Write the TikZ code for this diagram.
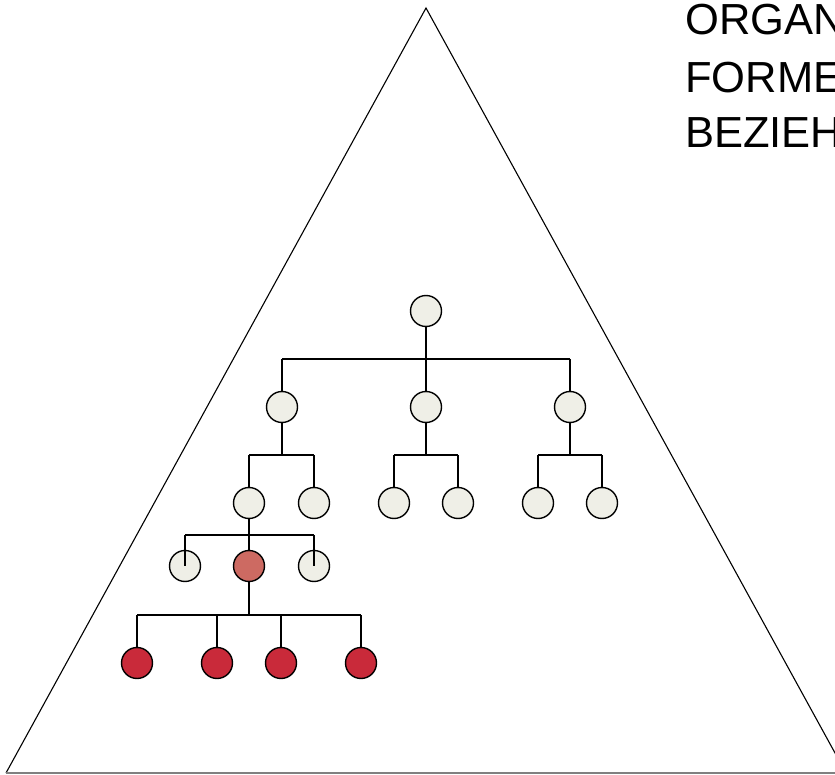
\documentclass[tikz,border=0pt]{standalone}
\usepackage{fontspec}
\setmainfont{Liberation Sans}
\usepackage{tikz}
\usetikzlibrary{calc}
\definecolor{nodelight}{HTML}{EFEFE7}
\definecolor{nodepink}{HTML}{CD6A62}
\definecolor{nodered}{HTML}{C92A3A}

\begin{document}
\begin{tikzpicture}[x=1pt, y=-1pt,
    unit/.style={circle, draw=black, line width=1.4pt, minimum size=31pt, inner sep=0pt, fill=nodelight},
    focus/.style={unit, fill=nodepink},
    member/.style={unit, fill=nodered},
    link/.style={line width=1.4pt},
    title/.style={anchor=base west, inner sep=0pt, font=\fontsize{43.5pt}{57pt}\selectfont}]
    \useasboundingbox (0,0) rectangle (835,775);
    \clip (0,0) rectangle (835,775);
    \fill[white] (0,0) rectangle (835,775);

    % Pyramid
    \coordinate (apex) at (426,8);
    \coordinate (baseL) at (6,773);
    \coordinate (baseR) at (846,773);
    \draw[line width=1.1pt] (baseL) -- (apex) -- (baseR);
    \draw[gray, line width=1.2pt] (baseL) -- (baseR);

    % Heading
    \node[title] (txtA) at (685,35) {ORGANISATION};
    \node[title] (txtB) at (685,93) {FORMELLE};
    \node[title] (txtC) at (685,148) {BEZIEHUNGEN};

    % bar levels
    \coordinate (bar1) at (0,359);
    \coordinate (bar2) at (0,455);
    \coordinate (bar3) at (0,535);
    \coordinate (bar4) at (0,615);

    % Top and first level
    \node[unit] (top) at (426,311) {};
    \node[unit] (l1a) at (282,407) {};
    \node[unit] (l1b) at (426,407) {};
    \node[unit] (l1c) at (570,407) {};
    \draw[link] (top.south) -- (top |- bar1);
    \draw[link] (l1a |- bar1) -- (l1c |- bar1);
    \foreach \c in {l1a,l1b,l1c}
        \draw[link] (\c |- bar1) -- (\c.north);

    % Second level
    \node[unit] (l2a) at (249,503) {};
    \node[unit] (l2b) at (314,503) {};
    \node[unit] (l2c) at (394,503) {};
    \node[unit] (l2d) at (458,503) {};
    \node[unit] (l2e) at (538,503) {};
    \node[unit] (l2f) at (602,503) {};
    \foreach \p/\a/\b in {l1a/l2a/l2b, l1b/l2c/l2d, l1c/l2e/l2f} {
        \draw[link] (\p.south) -- (\p |- bar2);
        \draw[link] (\a |- bar2) -- (\b |- bar2);
        \draw[link] (\a |- bar2) -- (\a.north);
        \draw[link] (\b |- bar2) -- (\b.north);
    }

    % Third level
    \node[unit] (l3a) at (185,566) {};
    \node[focus] (l3b) at (249,566) {};
    \node[unit] (l3c) at (314,566) {};
    \draw[link] (l2a.south) -- (l3b.north);
    \draw[link] (l3a |- bar3) -- (l3c |- bar3);
    \draw[link] (l3a |- bar3) -- (l3a.center);
    \draw[link] (l3c |- bar3) -- (l3c.center);

    % Fourth level
    \node[member] (l4a) at (137,663) {};
    \node[member] (l4b) at (217,663) {};
    \node[member] (l4c) at (281,663) {};
    \node[member] (l4d) at (361,663) {};
    \draw[link] (l3b.south) -- (l3b |- bar4);
    \draw[link] (l4a |- bar4) -- (l4d |- bar4);
    \foreach \c in {l4a,l4b,l4c,l4d}
        \draw[link] (\c |- bar4) -- (\c.north);
\end{tikzpicture}
\end{document}
